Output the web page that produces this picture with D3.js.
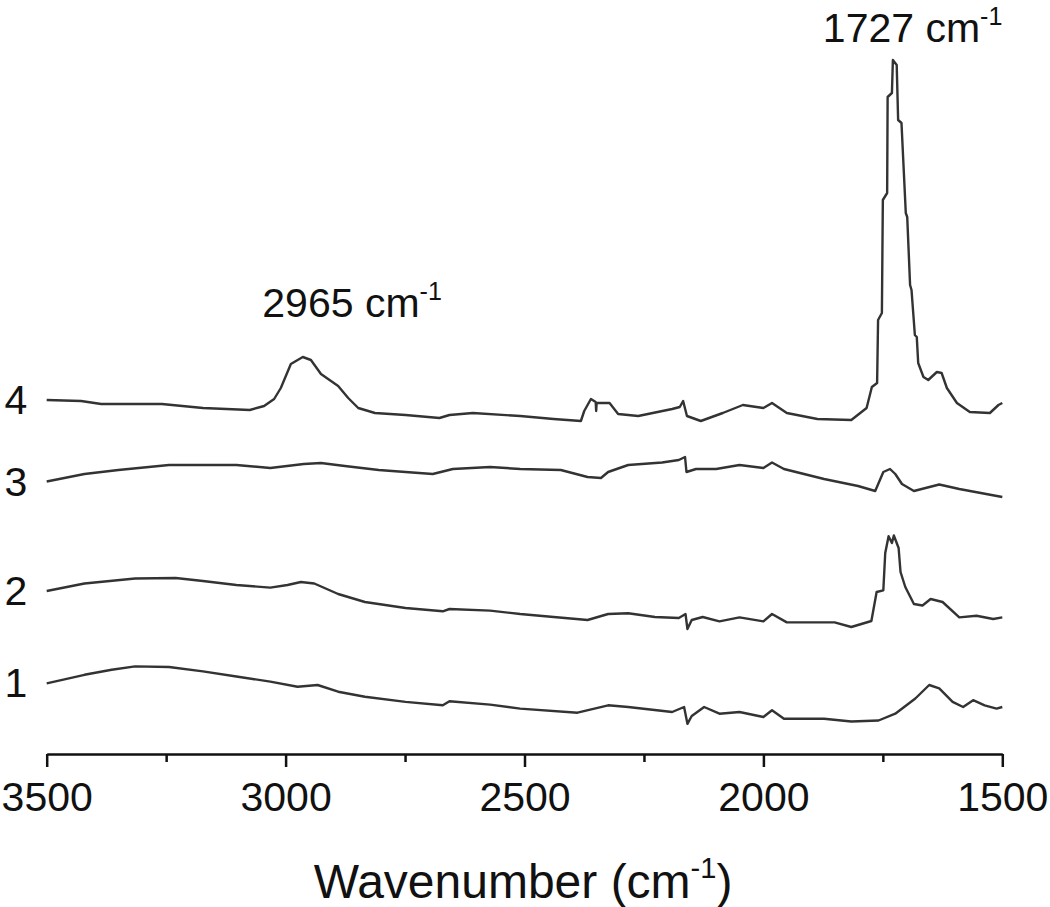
<!DOCTYPE html>
<html>
<head>
<meta charset="utf-8">
<script src="https://cdn.jsdelivr.net/npm/d3@7/dist/d3.min.js"></script>
<style>
  html, body { margin: 0; padding: 0; background: #fff; }
  svg { display: block; }
  text { font-family: Arial, "Liberation Sans", sans-serif; fill: #111; }
</style>
</head>
<body>
<svg id="chart" width="1050" height="907"></svg>
<script>
// Wavenumber axis ticks
const majorTicks = [3500, 3000, 2500, 2000, 1500];
const minorTicks = [3250, 2750, 2250, 1750];
const seriesLabels = ["1", "2", "3", "4"];
const peakLabels = [2965, 1727];

// Spectra: [wavenumber (cm-1), stacked absorbance (a.u.)]
const spectrum1 = [[3500,70.7],[3421,79.2],[3364,84.2],[3315,87.6],[3244,87],[3173,82.6],[3103,77.5],[3032,72.4],[2975,67.3],[2933,69],[2890,62.3],[2834,57.2],[2749,52.1],[2671,48.7],[2657,52.8],[2572,49.4],[2509,45.4],[2389,41.3],[2325,48.7],[2283,47],[2191,42],[2166,47],[2159,30.2],[2150,38],[2124,47],[2092,40.3],[2050,42],[2000,37],[1982,43.7],[1957,35.2],[1873,35.2],[1816,32.5],[1759,33.5],[1724,40.3],[1682,55.5],[1653,69],[1632,65.6],[1604,52.1],[1582,47],[1561,53.8],[1537,48.7],[1512,45.4],[1500,47]];
const spectrum2 = [[3500,163],[3421,170.5],[3315,175.5],[3230,176],[3173,173],[3103,169],[3032,166.4],[2996,169],[2968,172],[2940,170.5],[2890,160],[2834,152],[2749,146],[2671,142.7],[2657,145],[2572,143.4],[2509,140],[2439,137],[2368,134],[2325,140],[2283,140.7],[2227,137],[2177,136],[2163,140],[2159,125],[2150,134],[2127,137],[2092,132.6],[2050,136.6],[2000,132.6],[1982,140],[1951,131.6],[1851,131.6],[1816,127],[1774,133],[1763,162],[1749,163.7],[1745,201],[1738,217.8],[1731,211],[1727,218.5],[1717,206],[1713,182],[1703,167],[1685,150],[1667,148.5],[1650,155],[1625,152],[1590,136.6],[1554,138.3],[1519,135],[1500,136.6]];
const spectrum3 = [[3500,272.5],[3421,280],[3350,284],[3244,289],[3103,289],[3032,286],[2962,290],[2926,291],[2876,288],[2805,284],[2749,282],[2692,280],[2650,285],[2572,287],[2509,285],[2424,284],[2368,277],[2340,276],[2325,282],[2283,289],[2212,291.5],[2177,294],[2164,297],[2161,282],[2141,285],[2099,285],[2050,289],[2000,286],[1982,291.5],[1957,285],[1873,275],[1802,268],[1766,263],[1749,282],[1735,285],[1724,280],[1710,270],[1685,263],[1632,269.5],[1590,265],[1500,257]];
const spectrum4 = [[3500,354],[3428,353],[3386,350],[3259,350],[3173,346],[3075,344],[3045,348],[3024,355],[3010,366],[2989,390],[2964,397],[2947,394],[2926,380],[2890,368],[2869,356],[2848,346],[2813,341],[2749,339],[2678,336],[2657,339],[2608,341],[2509,338],[2439,335],[2382,333],[2375,343],[2361,355],[2351,352],[2350,343],[2349,351],[2322,351],[2304,340],[2262,338],[2191,345],[2175,347],[2168,353],[2160,338],[2131,333],[2085,341],[2043,349],[2000,346],[1982,351],[1951,341],[1887,335],[1816,334],[1784,346],[1773,367],[1762,371],[1760,434],[1752,441],[1750,554],[1741,561],[1740,657],[1731,661],[1729,694],[1721,689],[1718,634],[1711,631],[1702,541],[1699,537],[1693,469],[1690,464],[1683,419],[1679,417],[1676,391],[1665,377],[1655,374],[1637,382],[1627,381],[1616,366],[1595,351],[1568,342],[1526,341],[1508,349],[1500,351]];
const spectra = [spectrum1, spectrum2, spectrum3, spectrum4];

const svg = d3.select("#chart");
svg.append("rect").attr("width", 1050).attr("height", 907).attr("fill", "#fff");

const x = d3.scaleLinear().domain([3500, 1500]).range([46.7, 1002.3]);
const y = d3.scaleLinear().domain([0, 700]).range([754, 54]);

// spectra
const line = d3.line().x(d => x(d[0])).y(d => y(d[1]));
svg.append("g").selectAll("path").data(spectra).join("path")
  .attr("d", line)
  .attr("fill", "none")
  .attr("stroke", "#333")
  .attr("stroke-width", 2.4)
  .attr("stroke-linejoin", "round");

// series labels at the left
svg.append("g").selectAll("text").data(spectra).join("text")
  .attr("x", 16)
  .attr("y", d => y(d[0][1]) + 14)
  .attr("text-anchor", "middle")
  .attr("font-size", 41)
  .text((d, i) => seriesLabels[i]);

// axis
const axisG = svg.append("g").attr("transform", "translate(0,754)");
axisG.call(d3.axisBottom(x).tickValues(majorTicks).tickSize(13).tickSizeOuter(0).tickPadding(15).tickFormat(d3.format("d")));
const minorG = svg.append("g").attr("transform", "translate(0,754)");
minorG.call(d3.axisBottom(x).tickValues(minorTicks).tickSize(8).tickSizeOuter(0).tickFormat(""));
minorG.select(".domain").remove();
svg.selectAll(".domain, .tick line").attr("stroke", "#111").attr("stroke-width", 2.5);
axisG.selectAll(".tick text")
  .attr("font-size", 41)
  .attr("font-family", "Arial, 'Liberation Sans', sans-serif")
  .attr("fill", "#111");

// axis title
const title = svg.append("text")
  .attr("x", 523)
  .attr("y", 898)
  .attr("text-anchor", "middle")
  .attr("font-size", 48);
title.append("tspan").text("Wavenumber (cm");
title.append("tspan").attr("font-size", 29).attr("dy", -20).text("-1");
title.append("tspan").attr("dy", 20).text(")");

// peak annotations
function peakLabel(wn, xOffset, yBase) {
  const t = svg.append("text")
    .attr("x", x(wn) + xOffset)
    .attr("y", yBase)
    .attr("text-anchor", "start")
    .attr("font-size", 41);
  t.append("tspan").text(wn + " cm");
  t.append("tspan").attr("font-size", 25).attr("dy", -17).text("-1");
}
peakLabel(peakLabels[0], -40, 317);
peakLabel(peakLabels[1], -71, 42);
</script>
</body>
</html>
